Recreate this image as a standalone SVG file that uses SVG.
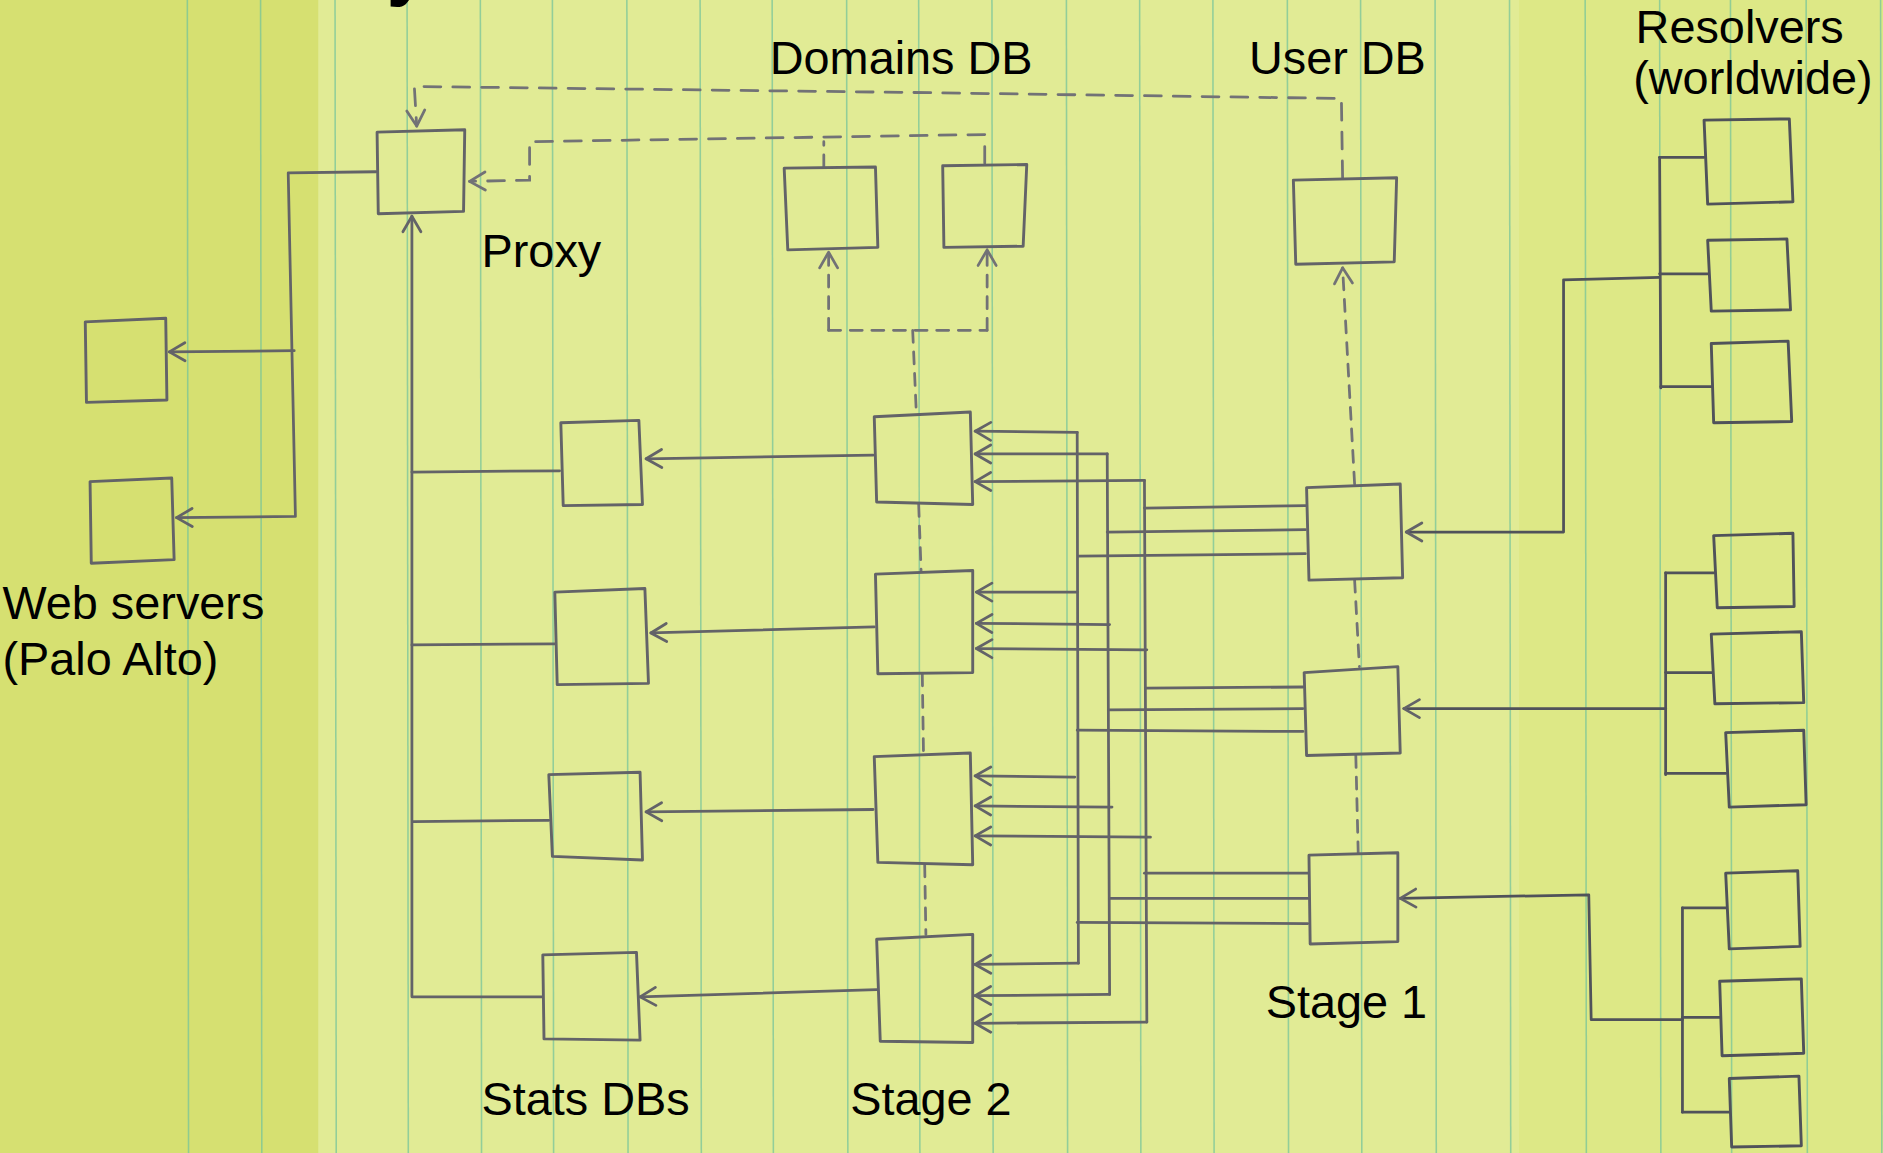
<svg xmlns="http://www.w3.org/2000/svg" width="1883" height="1153" viewBox="0 0 1883 1153">
<style>
.paper{stroke:none}
.rule{stroke:#72c39c;stroke-width:1.3;opacity:0.7}
.box{fill:none;stroke:#636368;stroke-width:2.4;stroke-linejoin:round;stroke-linecap:round}
.wire{fill:none;stroke:#636368;stroke-width:2.3;stroke-linecap:round;stroke-linejoin:round}
.dark{stroke:#50525a}
.dash{fill:none;stroke:#727276;stroke-width:2.3;stroke-dasharray:14 10;stroke-linecap:round}
.dashs{fill:none;stroke:#727276;stroke-width:2.3;stroke-dasharray:10 8;stroke-linecap:round}
.lbl{font-family:"Liberation Sans",Arial,sans-serif;font-size:39px;fill:#000}
</style>
<defs>
<marker id="arr" viewBox="0 0 20 20" refX="18" refY="10" markerWidth="20" markerHeight="20" markerUnits="userSpaceOnUse" orient="auto">
<path d="M5,2.5 L18,10 L5,17.5" fill="none" stroke="#636368" stroke-width="2.3" stroke-linecap="round" stroke-linejoin="round"/>
</marker>
<marker id="arrd" viewBox="0 0 20 20" refX="18" refY="10" markerWidth="20" markerHeight="20" markerUnits="userSpaceOnUse" orient="auto">
<path d="M5,2.5 L18,10 L5,17.5" fill="none" stroke="#727276" stroke-width="2.3" stroke-linecap="round" stroke-linejoin="round"/>
</marker>
</defs>
<g transform="scale(1.20089 1.20104)">
<g id="background">
<rect class="paper" x="0" y="0" width="1568" height="960" fill="#e1eb95"/>
<rect class="paper" x="0" y="0" width="265" height="960" fill="#d6e071"/>
<rect class="paper" x="1265" y="0" width="303" height="960" fill="#dde886"/>
<g id="ruled-lines">
<line class="rule" x1="156" y1="0" x2="157" y2="960"/>
<line class="rule" x1="217" y1="0" x2="218" y2="960"/>
<line class="rule" x1="279" y1="0" x2="280" y2="960"/>
<line class="rule" x1="339" y1="0" x2="340" y2="960"/>
<line class="rule" x1="400" y1="0" x2="401" y2="960"/>
<line class="rule" x1="460" y1="0" x2="461" y2="960"/>
<line class="rule" x1="522" y1="0" x2="523" y2="960"/>
<line class="rule" x1="583" y1="0" x2="584" y2="960"/>
<line class="rule" x1="643" y1="0" x2="644" y2="960"/>
<line class="rule" x1="705" y1="0" x2="706" y2="960"/>
<line class="rule" x1="765" y1="0" x2="766" y2="960"/>
<line class="rule" x1="826" y1="0" x2="827" y2="960"/>
<line class="rule" x1="888" y1="0" x2="889" y2="960"/>
<line class="rule" x1="949" y1="0" x2="950" y2="960"/>
<line class="rule" x1="1010" y1="0" x2="1011" y2="960"/>
<line class="rule" x1="1072" y1="0" x2="1073" y2="960"/>
<line class="rule" x1="1133" y1="0" x2="1134" y2="960"/>
<line class="rule" x1="1195" y1="0" x2="1196" y2="960"/>
<line class="rule" x1="1257" y1="0" x2="1258" y2="960"/>
<line class="rule" x1="1320" y1="0" x2="1321" y2="960"/>
<line class="rule" x1="1382" y1="0" x2="1383" y2="960"/>
<line class="rule" x1="1441" y1="0" x2="1442" y2="960"/>
<line class="rule" x1="1504" y1="0" x2="1505" y2="960"/>
<line class="rule" x1="1566" y1="0" x2="1567" y2="960"/>
</g>
</g>

<text class="lbl" x="322" y="-7" style="font-size:62px;font-weight:bold">y</text>

<g id="connectors">
<!-- proxy to web servers -->
<path class="wire" d="M313,143 L240,144 L246,430 L147,431" marker-end="url(#arr)"/>
<path class="wire" d="M245,292 L141,293" marker-end="url(#arr)"/>
<!-- stats DBs to proxy -->
<path class="wire" d="M451,830 L343,830 L343,180" marker-end="url(#arr)"/>
<path class="wire" d="M466,392 L343,393"/>
<path class="wire" d="M462,536 L343,537"/>
<path class="wire" d="M457,683 L344,684"/>
<!-- stage 2 to stats DBs -->
<path class="wire" d="M727,379 L538,382" marker-end="url(#arr)"/>
<path class="wire" d="M728,522 L542,527" marker-end="url(#arr)"/>
<path class="wire" d="M727,674 L538,676" marker-end="url(#arr)"/>
<path class="wire" d="M730,824 L533,830" marker-end="url(#arr)"/>
<!-- bus lines -->
<path class="wire" d="M897,360 L898,802"/>
<path class="wire" d="M922,378 L924,828"/>
<path class="wire" d="M953,400 L955,851"/>
<!-- bus to stage 2 -->
<path class="wire" d="M897,360 L812,359" marker-end="url(#arr)"/>
<path class="wire" d="M922,378 L812,378" marker-end="url(#arr)"/>
<path class="wire" d="M953,400 L812,401" marker-end="url(#arr)"/>
<path class="wire" d="M897,493 L813,493" marker-end="url(#arr)"/>
<path class="wire" d="M924,520 L813,519" marker-end="url(#arr)"/>
<path class="wire" d="M955,541 L813,540" marker-end="url(#arr)"/>
<path class="wire" d="M895,647 L812,646" marker-end="url(#arr)"/>
<path class="wire" d="M926,672 L812,671" marker-end="url(#arr)"/>
<path class="wire" d="M958,697 L812,696" marker-end="url(#arr)"/>
<path class="wire" d="M898,802 L812,803" marker-end="url(#arr)"/>
<path class="wire" d="M924,828 L812,829" marker-end="url(#arr)"/>
<path class="wire" d="M955,851 L812,852" marker-end="url(#arr)"/>
<!-- stage 1 to bus -->
<path class="wire" d="M1087,421 L953,423"/>
<path class="wire" d="M1087,441 L922,443"/>
<path class="wire" d="M1087,461 L898,463"/>
<path class="wire" d="M1085,572 L954,573"/>
<path class="wire" d="M1085,590 L923,591"/>
<path class="wire" d="M1085,609 L897,608"/>
<path class="wire" d="M1089,727 L953,727"/>
<path class="wire" d="M1089,748 L924,748"/>
<path class="wire" d="M1089,769 L897,768"/>
<!-- resolvers to stage 1 -->
<path class="wire dark" d="M1382,231 L1302,233 L1302,443 L1171,443" marker-end="url(#arr)"/>
<path class="wire dark" d="M1382,131 L1383,323"/>
<path class="wire dark" d="M1382,131 L1419,131"/>
<path class="wire dark" d="M1382,228 L1422,228"/>
<path class="wire dark" d="M1383,322 L1425,322"/>
<path class="wire dark" d="M1387,477 L1387,645"/>
<path class="wire dark" d="M1387,477 L1427,477"/>
<path class="wire dark" d="M1387,560 L1426,560"/>
<path class="wire dark" d="M1387,644 L1437,644"/>
<path class="wire dark" d="M1387,590 L1169,590" marker-end="url(#arr)"/>
<path class="wire dark" d="M1401,756 L1401,926"/>
<path class="wire dark" d="M1401,756 L1437,756"/>
<path class="wire dark" d="M1401,847 L1432,847"/>
<path class="wire dark" d="M1401,926 L1440,926"/>
<path class="wire dark" d="M1401,849 L1325,849 L1323,745 L1166,748" marker-end="url(#arr)"/>
<!-- dashed: DB links -->
<path class="dash" d="M1118,148 L1117,82 L760,77 L345,72 L347,105" marker-end="url(#arrd)"/>
<path class="dash" d="M820,136 L820,112 L441,118 L441,150 L391,151" marker-end="url(#arrd)"/>
<path class="dashs" d="M686,139 L686,118"/>
<path class="dashs" d="M690,275 L690,210" marker-end="url(#arrd)"/>
<path class="dashs" d="M822,275 L822,208" marker-end="url(#arrd)"/>
<path class="dashs" d="M690,275 L822,275"/>
<path class="dashs" d="M760,275 L763,343"/>
<path class="dashs" d="M765,420 L767,475"/>
<path class="dashs" d="M768,561 L769,627"/>
<path class="dashs" d="M770,720 L771,778"/>
<path class="dashs" d="M1128,403 L1118,223" marker-end="url(#arrd)"/>
<path class="dashs" d="M1128,483 L1132,555"/>
<path class="dashs" d="M1129,629 L1131,710"/>
</g>

<g id="web-server-1"><path class="box" d="M71,268 L138,265 L139,333 L72,335 Z"/></g>
<g id="web-server-2"><path class="box" d="M75,401 L143,398 L145,466 L76,469 Z"/></g>
<g id="proxy"><path class="box" d="M314,110 L387,108 L386,176 L315,178 Z"/></g>
<g id="domains-db-1"><path class="box" d="M653,140 L729,139 L731,206 L656,208 Z"/></g>
<g id="domains-db-2"><path class="box" d="M785,138 L855,137 L852,205 L786,206 Z"/></g>
<g id="user-db"><path class="box" d="M1077,150 L1163,148 L1161,218 L1079,220 Z"/></g>
<g id="stats-db-1"><path class="box" d="M467,352 L532,350 L535,420 L469,421 Z"/></g>
<g id="stats-db-2"><path class="box" d="M462,493 L537,490 L540,569 L464,570 Z"/></g>
<g id="stats-db-3"><path class="box" d="M457,645 L533,643 L535,716 L460,713 Z"/></g>
<g id="stats-db-4"><path class="box" d="M452,795 L530,793 L533,866 L453,865 Z"/></g>
<g id="stage2-1"><path class="box" d="M728,347 L808,343 L810,420 L730,418 Z"/></g>
<g id="stage2-2"><path class="box" d="M729,478 L810,475 L810,560 L731,561 Z"/></g>
<g id="stage2-3"><path class="box" d="M728,630 L808,627 L810,720 L731,718 Z"/></g>
<g id="stage2-4"><path class="box" d="M730,782 L810,778 L810,868 L733,867 Z"/></g>
<g id="stage1-1"><path class="box" d="M1088,406 L1166,403 L1168,481 L1090,483 Z"/></g>
<g id="stage1-2"><path class="box" d="M1086,560 L1164,555 L1166,627 L1088,629 Z"/></g>
<g id="stage1-3"><path class="box" d="M1090,712 L1164,710 L1164,784 L1091,786 Z"/></g>
<g id="resolver-1"><path class="box dark" d="M1419,100 L1490,99 L1493,168 L1422,170 Z"/></g>
<g id="resolver-2"><path class="box dark" d="M1422,200 L1488,199 L1491,258 L1425,259 Z"/></g>
<g id="resolver-3"><path class="box dark" d="M1425,286 L1489,284 L1492,351 L1427,352 Z"/></g>
<g id="resolver-4"><path class="box dark" d="M1427,446 L1493,444 L1494,505 L1430,506 Z"/></g>
<g id="resolver-5"><path class="box dark" d="M1425,528 L1500,526 L1502,585 L1428,586 Z"/></g>
<g id="resolver-6"><path class="box dark" d="M1437,610 L1502,608 L1504,670 L1440,672 Z"/></g>
<g id="resolver-7"><path class="box dark" d="M1437,727 L1497,725 L1499,788 L1440,790 Z"/></g>
<g id="resolver-8"><path class="box dark" d="M1432,817 L1500,815 L1502,877 L1434,879 Z"/></g>
<g id="resolver-9"><path class="box dark" d="M1440,898 L1498,896 L1500,954 L1442,955 Z"/></g>

<g id="labels">
<text class="lbl" x="641" y="62">Domains DB</text>
<text class="lbl" x="1040" y="62">User DB</text>
<text class="lbl" x="1362" y="36">Resolvers</text>
<text class="lbl" x="1360" y="78">(worldwide)</text>
<text class="lbl" x="401" y="222">Proxy</text>
<text class="lbl" x="2" y="515">Web servers</text>
<text class="lbl" x="2" y="562">(Palo Alto)</text>
<text class="lbl" x="401" y="928">Stats DBs</text>
<text class="lbl" x="708" y="928">Stage 2</text>
<text class="lbl" x="1054" y="848">Stage 1</text>
</g>
</g>
</svg>
